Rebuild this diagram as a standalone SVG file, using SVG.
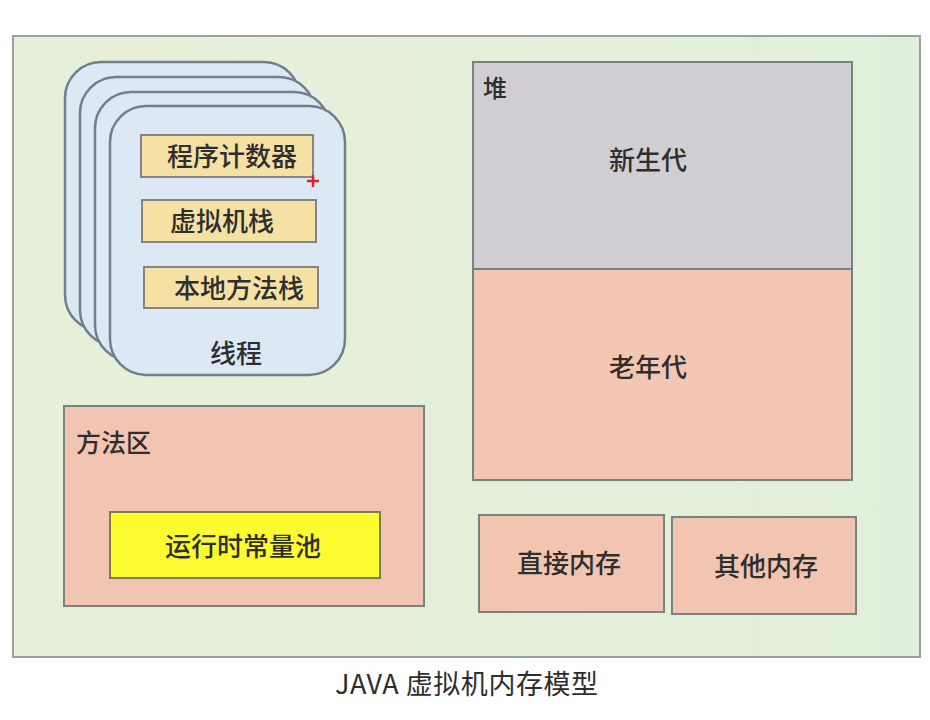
<svg xmlns="http://www.w3.org/2000/svg" width="930" height="720" viewBox="0 0 930 720">
<style>
text{font-family:"Noto Sans CJK SC","Noto Sans",sans-serif;fill:#2e2e2e;font-weight:500;}
.card{fill:#dde8f5;stroke:#6f808c;stroke-width:2.5;}
.slot{fill:#f5e1a4;stroke:#7a7a7a;stroke-width:1.8;}
.box{stroke:#76847f;stroke-width:2;}
.lbl{font-size:26px;text-anchor:middle;}
</style>
<defs>
<linearGradient id="bg" x1="0" y1="0" x2="1" y2="0">
<stop offset="0" stop-color="#e8efd8"/>
<stop offset="1" stop-color="#e1f0dc"/>
</linearGradient>
</defs>
<rect width="930" height="720" fill="#ffffff"/>
<g id="frame">
<rect x="13" y="36" width="907" height="621" fill="url(#bg)" stroke="#96a39f" stroke-width="2"/>
</g>
<g id="threads">
<rect class="card" x="65" y="62" width="235" height="269" rx="36"/>
<rect class="card" x="80" y="77" width="235" height="269" rx="36"/>
<rect class="card" x="95" y="92" width="235" height="269" rx="36"/>
<rect class="card" x="110" y="106" width="235" height="269" rx="36"/>
<text class="lbl" x="236" y="363">线程</text>
</g>
<g id="pc">
<rect class="slot" x="141" y="135" width="172" height="42"/>
<text class="lbl" x="232" y="166">程序计数器</text>
</g>
<g id="vmstack">
<rect class="slot" x="142" y="200" width="174" height="42"/>
<text class="lbl" x="222" y="231">虚拟机栈</text>
</g>
<g id="nativestack">
<rect class="slot" x="144" y="267" width="174" height="41"/>
<text class="lbl" x="239" y="298">本地方法栈</text>
</g>
<g id="cursor">
<path d="M307 181h12M313 175v12" stroke="#e0202a" stroke-width="2.5"/>
</g>
<g id="heap">
<rect class="box" x="473" y="62" width="379" height="207" fill="#d1ced3"/>
<rect class="box" x="473" y="269" width="379" height="211" fill="#f2c6b1"/>
<text x="483" y="97" style="font-size:24px">堆</text>
</g>
<g id="young">
<text class="lbl" x="648" y="170">新生代</text>
</g>
<g id="old">
<text class="lbl" x="648" y="377">老年代</text>
</g>
<g id="methodarea">
<rect class="box" x="64" y="406" width="360" height="200" fill="#f2c5b3"/>
<text x="76" y="452" style="font-size:25px">方法区</text>
</g>
<g id="constpool">
<rect x="110" y="512" width="270" height="66" fill="#fbfb30" stroke="#7c7c50" stroke-width="2"/>
<text class="lbl" x="243" y="556">运行时常量池</text>
</g>
<g id="direct">
<rect class="box" x="479" y="515" width="185" height="97" fill="#f2c5b1"/>
<text class="lbl" x="569" y="573">直接内存</text>
</g>
<g id="other">
<rect class="box" x="672" y="517" width="184" height="97" fill="#f2c5b1"/>
<text class="lbl" x="766" y="576">其他内存</text>
</g>
<g id="connectors"></g>
<g id="caption">
<text x="335" y="694" style="font-size:27px;font-weight:400" textLength="263" lengthAdjust="spacing">JAVA 虚拟机内存模型</text>
</g>
</svg>
